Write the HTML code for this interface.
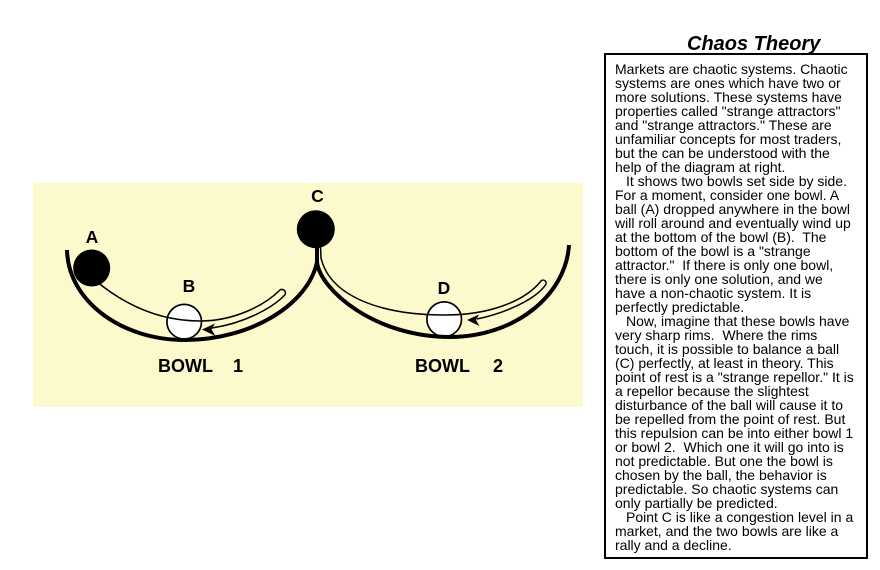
<!DOCTYPE html>
<html>
<head>
<meta charset="utf-8">
<style>
  html, body { margin:0; padding:0; background:#ffffff; }
  body { width:880px; height:570px; overflow:hidden; position:relative; }
  svg { position:absolute; left:0; top:0; }
  .lbl { font-family:"Liberation Sans", Arial, sans-serif; font-weight:bold; fill:#000; }
  .body { font-family:"Liberation Sans", Arial, sans-serif; font-size:14px; fill:#000; }
</style>
</head>
<body>
<svg width="880" height="570" viewBox="0 0 880 570" xmlns="http://www.w3.org/2000/svg">
  <!-- yellow diagram background -->
  <rect x="33" y="183" width="550" height="224" fill="#fcfacd"/>

  <!-- white balls B and D (drawn first so track line passes over) -->
  <circle cx="184.2" cy="321.7" r="17.3" fill="#ffffff" stroke="#000" stroke-width="1.7"/>
  <circle cx="444.2" cy="319.2" r="17.3" fill="#ffffff" stroke="#000" stroke-width="1.7"/>

  <!-- bowl outer thick lines -->
  <path d="M67,250 C68,300 120,340 185,340 C250,340 308,305 317,262 L317,246" fill="none" stroke="#000" stroke-width="4"/>
  <path d="M317,262 C320,290 375,337 450,337 C515,337 566,295 569,245" fill="none" stroke="#000" stroke-width="4"/>

  <!-- bowl 1 track -->
  <path d="M96,281 C125,305 160,321 200,321 C235,321 265,305 280,290 A3.5,3.5 0 0 1 284.3,295.5 C272,308 245,323 212,328" fill="none" stroke="#000" stroke-width="1.5"/>
  <polygon points="202,329.5 215,323.5 211.5,329.5 215.5,336" fill="#000"/>

  <!-- bowl 2 track -->
  <path d="M320.5,246 L321,258 C330,296 380,315 445,315 C490,315 525,301 541,281 A3,3 0 0 1 545.6,284.8 C535,300 505,313 477,319" fill="none" stroke="#000" stroke-width="1.5"/>
  <polygon points="467,320 479,314.5 476,320 479.5,326" fill="#000"/>

  <!-- black balls A and C -->
  <circle cx="91.7" cy="268" r="18.5" fill="#000"/>
  <circle cx="315.8" cy="229.2" r="19" fill="#000"/>

  <!-- labels -->
  <text class="lbl" x="92" y="243" font-size="17.5" text-anchor="middle">A</text>
  <text class="lbl" x="189" y="292" font-size="17.5" text-anchor="middle">B</text>
  <text class="lbl" x="317.5" y="202" font-size="17.5" text-anchor="middle">C</text>
  <text class="lbl" x="444" y="294" font-size="17.5" text-anchor="middle">D</text>

  <text class="lbl" x="158" y="372" font-size="18">BOWL</text>
  <text class="lbl" x="238" y="372" font-size="18" text-anchor="middle">1</text>
  <text class="lbl" x="415" y="372" font-size="18">BOWL</text>
  <text class="lbl" x="498" y="372" font-size="18" text-anchor="middle">2</text>

  <!-- title -->
  <text x="687" y="50" font-family="Liberation Sans, Arial, sans-serif" font-size="20" font-weight="bold" font-style="italic" fill="#000">Chaos Theory</text>

  <!-- text box -->
  <rect x="605" y="54" width="262" height="504" fill="#ffffff" stroke="#000" stroke-width="2"/>

  <g class="body">
    <text x="615" y="74">Markets are chaotic systems. Chaotic</text>
    <text x="615" y="88">systems are ones which have two or</text>
    <text x="615" y="102">more solutions. These systems have</text>
    <text x="615" y="116">properties called "strange attractors"</text>
    <text x="615" y="130">and "strange attractors." These are</text>
    <text x="615" y="144">unfamiliar concepts for most traders,</text>
    <text x="615" y="158">but the can be understood with the</text>
    <text x="615" y="172">help of the diagram at right.</text>
    <text x="626" y="186">It shows two bowls set side by side.</text>
    <text x="615" y="200">For a moment, consider one bowl. A</text>
    <text x="615" y="214">ball (A) dropped anywhere in the bowl</text>
    <text x="615" y="228">will roll around and eventually wind up</text>
    <text x="615" y="242" style="white-space:pre">at the bottom of the bowl (B).  The</text>
    <text x="615" y="256">bottom of the bowl is a "strange</text>
    <text x="615" y="270" style="white-space:pre">attractor."  If there is only one bowl,</text>
    <text x="615" y="284">there is only one solution, and we</text>
    <text x="615" y="298">have a non-chaotic system. It is</text>
    <text x="615" y="312">perfectly predictable.</text>
    <text x="626" y="326">Now, imagine that these bowls have</text>
    <text x="615" y="340" style="white-space:pre">very sharp rims.  Where the rims</text>
    <text x="615" y="354">touch, it is possible to balance a ball</text>
    <text x="615" y="368">(C) perfectly, at least in theory. This</text>
    <text x="615" y="382">point of rest is a "strange repellor." It is</text>
    <text x="615" y="396">a repellor because the slightest</text>
    <text x="615" y="410">disturbance of the ball will cause it to</text>
    <text x="615" y="424">be repelled from the point of rest. But</text>
    <text x="615" y="438">this repulsion can be into either bowl 1</text>
    <text x="615" y="452" style="white-space:pre">or bowl 2.  Which one it will go into is</text>
    <text x="615" y="466">not predictable. But one the bowl is</text>
    <text x="615" y="480">chosen by the ball, the behavior is</text>
    <text x="615" y="494">predictable. So chaotic systems can</text>
    <text x="615" y="508">only partially be predicted.</text>
    <text x="626" y="522">Point C is like a congestion level in a</text>
    <text x="615" y="536">market, and the two bowls are like a</text>
    <text x="615" y="550">rally and a decline.</text>
  </g>
</svg>
</body>
</html>
